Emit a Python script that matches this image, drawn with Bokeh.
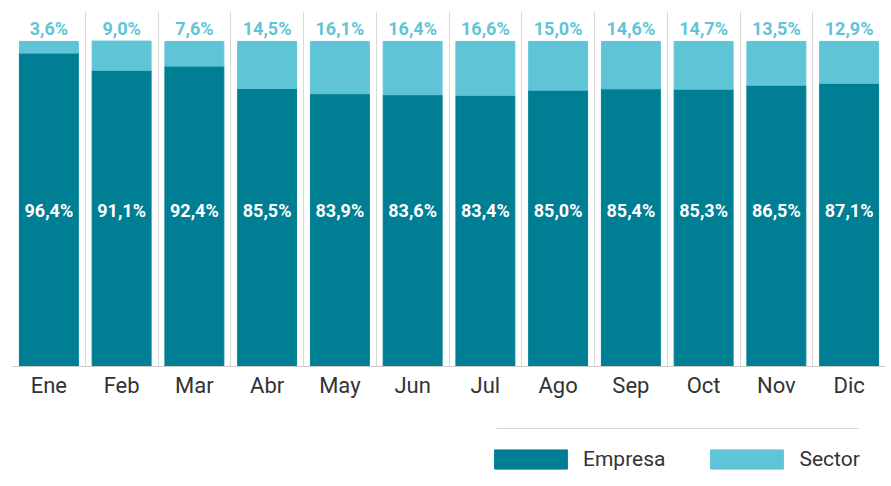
from bokeh.plotting import figure
from bokeh.models import (ColumnDataSource, Range1d, FixedTicker, Legend, LegendItem,
                          BoxAnnotation, LabelSet)
from bokeh.layouts import column
from bokeh.core.properties import value
from bokeh.embed import file_html
from bokeh.resources import INLINE

months = ["Ene", "Feb", "Mar", "Abr", "May", "Jun", "Jul", "Ago", "Sep", "Oct", "Nov", "Dic"]
empresa = [96.4, 91.1, 92.4, 85.5, 83.9, 83.6, 83.4, 85.0, 85.4, 85.3, 86.5, 87.1]
sector = [3.6, 9.0, 7.6, 14.5, 16.1, 16.4, 16.6, 15.0, 14.6, 14.7, 13.5, 12.9]
series_names = ["Empresa", "Sector"]

C_EMP = "#007E94"
C_SEC = "#5FC5D6"
FONT = "Roboto"

def fmt(v):
    return ("%.1f%%" % v).replace(".", ",")

xs = [i + 0.5 for i in range(len(months))]
top = [e + s for e, s in zip(empresa, sector)]
src = ColumnDataSource(dict(
    x=xs, empresa=empresa, sector=sector, top=top,
    emp_lbl=[fmt(v) for v in empresa], sec_lbl=[fmt(v) for v in sector],
    emp_y=[48] * len(months), sec_y=[104] * len(months),
))

p = figure(width=891, height=410, output_backend="svg", toolbar_location=None,
           x_range=Range1d(0, 12), y_range=Range1d(0, 109.2),
           min_border_left=12, min_border_right=6, min_border_top=11, min_border_bottom=44)
p.outline_line_color = None
p.background_fill_color = "white"

p.vbar(x="x", bottom=0, top="empresa", width=0.81, color=C_EMP, source=src)
p.vbar(x="x", bottom="empresa", top="top", width=0.81, color=C_SEC, source=src)

p.add_layout(LabelSet(x="x", y="emp_y", text="emp_lbl", source=src, text_align="center",
                      text_baseline="middle", text_color="white", text_font_size="18px",
                      text_font_style="bold", text_font=value(FONT)))
p.add_layout(LabelSet(x="x", y="sec_y", text="sec_lbl", source=src, text_align="center",
                      text_baseline="middle", text_color=C_SEC, text_font_size="18px",
                      text_font_style="bold", text_font=value(FONT)))

p.yaxis.visible = False
p.ygrid.visible = False
p.xgrid.ticker = FixedTicker(ticks=list(range(0, 13)))
p.xgrid.grid_line_color = "#d9d9d9"
p.xgrid.grid_line_width = 1

ax = p.xaxis[0]
ax.ticker = FixedTicker(ticks=xs)
ax.major_label_overrides = {x: m for x, m in zip(xs, months)}
ax.major_tick_line_color = None
ax.minor_tick_line_color = None
ax.axis_line_color = "#cccccc"
ax.axis_line_width = 1
ax.major_label_text_font = FONT
ax.major_label_text_font_size = "22px"
ax.major_label_text_color = "#333333"
ax.major_label_standoff = 0

# legend strip
p2 = figure(width=891, height=76, output_backend="svg", toolbar_location=None,
            x_range=Range1d(0, 891), y_range=Range1d(0, 76),
            min_border_left=0, min_border_right=0, min_border_top=0, min_border_bottom=0)
p2.axis.visible = False
p2.grid.visible = False
p2.outline_line_color = None
dummy = ColumnDataSource(dict(l=[-20], r=[-10], b=[-20], t=[-10]))
r_emp = p2.quad(left="l", right="r", bottom="b", top="t", color=C_EMP, source=dummy)
r_sec = p2.quad(left="l", right="r", bottom="b", top="t", color=C_SEC, source=dummy)

legend = Legend(items=[LegendItem(label=series_names[0], renderers=[r_emp]),
                       LegendItem(label=series_names[1], renderers=[r_sec])],
                orientation="horizontal", location=(473, 15),
                glyph_width=91, glyph_height=24, label_height=24, label_standoff=7,
                spacing=36, padding=0, margin=0, border_line_color=None,
                background_fill_alpha=0, label_text_font=FONT,
                label_text_font_size="21px", label_text_color="#333333")
p2.add_layout(legend, "center")

p2.add_layout(BoxAnnotation(left=494, right=864, top=58.5, bottom=57.5,
                            fill_color="#d9d9d9", fill_alpha=1, line_color=None))

open("out.html", "w").write(file_html(column(p, p2, spacing=0), INLINE))
